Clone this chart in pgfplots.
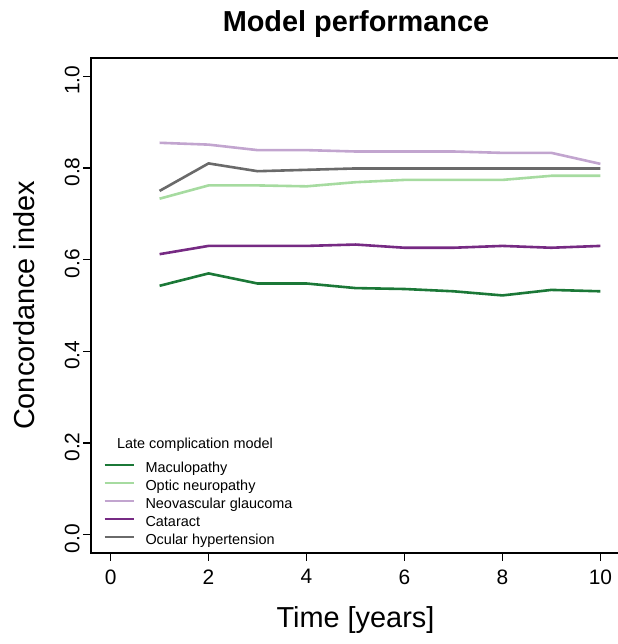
\documentclass[border=0pt]{standalone}
\usepackage{fontspec}
\setmainfont{Liberation Sans}
\usepackage{pgfplots}
\pgfplotsset{compat=1.18}
\definecolor{cmacu}{HTML}{1B7837}
\definecolor{copti}{HTML}{A6DBA0}
\definecolor{cneov}{HTML}{C2A5CF}
\definecolor{ccata}{HTML}{762A83}
\definecolor{cocul}{HTML}{6A6A6A}

\begin{document}
\begin{tikzpicture}
\begin{axis}[
  at={(91bp,91bp)}, anchor=south west,
  scale only axis, width=529bp, height=495bp,
  xmin=-0.4, xmax=10.4, ymin=-0.04, ymax=1.04,
  xtick={0,2,4,6,8,10}, ytick={0,0.2,0.4,0.6,0.8,1.0},
  xtick pos=bottom, ytick pos=left,
  tick align=outside, major tick length=8bp,
  axis line style={line width=1.2bp},
  tick style={black, line width=1.2bp},
  /pgf/number format/assume math mode=true,
  tick label style={font=\fontsize{21}{21}\selectfont},
  xticklabel style={yshift=-5bp},
  yticklabel style={rotate=90, anchor=south, xshift=-4bp,
    /pgf/number format/.cd, fixed, fixed zerofill, precision=1},
  xlabel={Time [years]}, ylabel={Concordance index},
  label style={font=\fontsize{29}{29}\selectfont},
  xlabel style={at={(axis description cs:0.5,-0.1515)}, anchor=base},
  ylabel style={at={(axis description cs:-0.1059,0.5)}, anchor=base},
  legend cell align=left,
  legend image code/.code={
    \draw[#1] (0bp,5bp) -- (29bp,5bp);
    \path[draw=none, fill=none] (0bp,0bp) rectangle (41bp,10bp);},
  legend style={draw=none, fill=none, inner sep=0bp, row sep=0bp,
    at={(axis description cs:0.0227,0.188)}, anchor=north west,
    font=\fontsize{14.5}{14.5}\selectfont,
    nodes={inner sep=0bp, text height=10.5bp, text depth=5.5bp}},
  every axis plot/.append style={line width=2.6bp},
]
\addplot[cmacu] coordinates {
  (1,0.543) (2,0.570) (3,0.548) (4,0.548) (5,0.538)
  (6,0.536) (7,0.531) (8,0.522) (9,0.534) (10,0.531)};
\addlegendentry{Maculopathy}
\addplot[copti] coordinates {
  (1,0.733) (2,0.762) (3,0.762) (4,0.760) (5,0.769)
  (6,0.774) (7,0.774) (8,0.774) (9,0.783) (10,0.783)};
\addlegendentry{Optic neuropathy}
\addplot[cneov] coordinates {
  (1,0.855) (2,0.851) (3,0.839) (4,0.839) (5,0.836)
  (6,0.836) (7,0.836) (8,0.833) (9,0.833) (10,0.809)};
\addlegendentry{Neovascular glaucoma}
\addplot[ccata] coordinates {
  (1,0.612) (2,0.630) (3,0.630) (4,0.630) (5,0.633)
  (6,0.626) (7,0.626) (8,0.630) (9,0.626) (10,0.630)};
\addlegendentry{Cataract}
\addplot[cocul] coordinates {
  (1,0.750) (2,0.810) (3,0.793) (4,0.796) (5,0.799)
  (6,0.799) (7,0.799) (8,0.799) (9,0.799) (10,0.799)};
\addlegendentry{Ocular hypertension}
\end{axis}
% legend title and chart title
\node[anchor=base, font=\fontsize{14.5}{14.5}\selectfont] at (195bp,195bp) {Late complication model};
\node[anchor=base, font=\bfseries\fontsize{29}{29}\selectfont] at (356bp,612bp) {Model performance};
\pgfresetboundingbox
\useasboundingbox (0,0) rectangle (618bp,644bp);
\end{tikzpicture}
\end{document}
